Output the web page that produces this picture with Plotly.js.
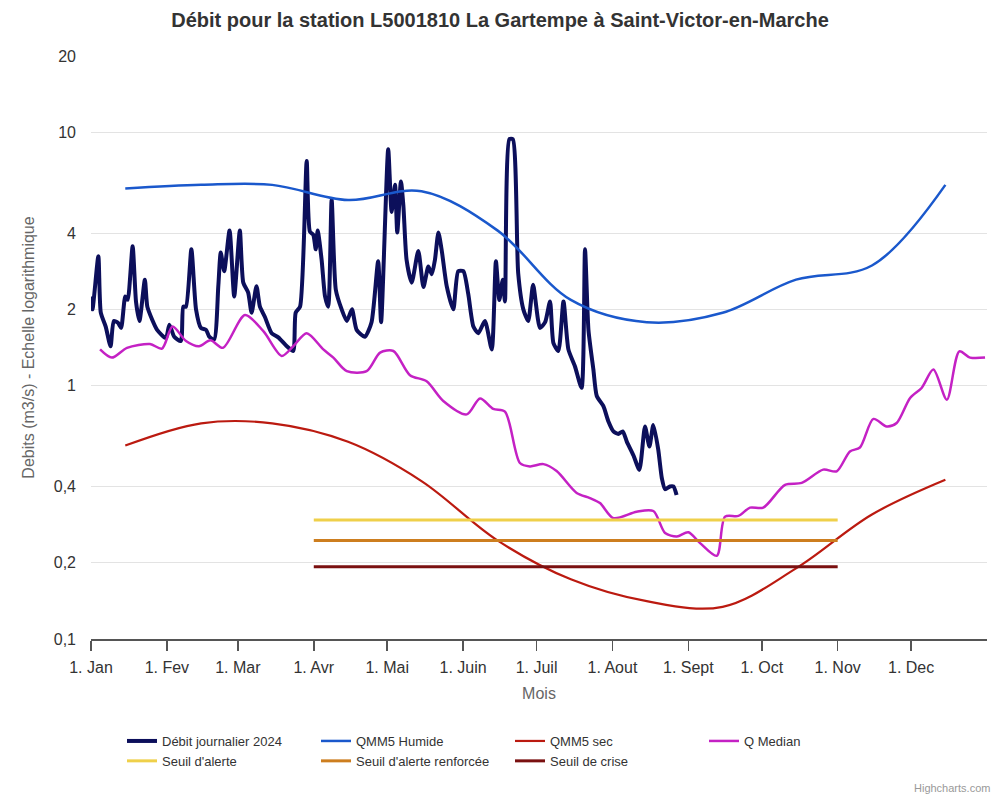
<!DOCTYPE html>
<html>
<head>
<meta charset="utf-8">
<script src="https://cdn.plot.ly/plotly-3.0.1.min.js"></script>
<style>html,body{margin:0;padding:0;background:#fff;}#chart{width:1000px;height:800px;}</style>
</head>
<body>
<div id="chart"></div>
<script>
// ---- Data (days counted from 1 Jan 2024) ----
const monthTickDays = [0, 31, 60, 91, 121, 152, 182, 213, 244, 274, 305, 335];
const monthTickLabels = ["1. Jan","1. Fev","1. Mar","1. Avr","1. Mai","1. Juin","1. Juil","1. Aout","1. Sept","1. Oct","1. Nov","1. Dec"];

const dailyDays = [0,0.6,3,4,6,8,9.3,11,12.3,14,15,17,18.4,19.8,22,23,25,27,30.6,32,34,36.7,37.7,38.8,41,42.9,44.9,47,48.3,50.3,52,53,54.4,56.6,58.5,60.8,62.2,64.2,65.6,67.6,69,71,73.8,76.5,80,82.6,83.6,85.4,88.1,89.4,90.8,91.8,92.6,94.2,95.6,96.9,98.3,100,102.4,104.5,106.6,108.5,111.9,114.6,117.3,118.5,121.4,122.8,124.2,125.1,126.6,127.6,128.9,131,133.7,135.8,137.8,139.2,140.5,141.9,143.3,145.3,148,150,152.1,154.1,156.2,158.2,160.9,163.7,165.4,166.8,168.2,169.1,170.9,172.3,174.5,176.6,178.6,180.6,183.4,185.5,187.5,188.9,190.9,193,195,197.7,200.4,201.8,203.2,205.2,206.6,209.3,211.4,213.4,215.4,217.2,218.9,221.6,224,226.3,228.1,229.7,231.7,233.2,234.5,236.5,237.9,239.2];
const dailyFlow = [2.25,2.0,3.24,1.94,1.71,1.43,1.80,1.77,1.69,2.25,2.18,3.55,2.14,1.80,2.62,2.05,1.82,1.66,1.54,1.74,1.56,1.50,2.05,2.05,3.45,2.0,1.69,1.66,1.56,1.52,2.47,3.35,2.83,4.1,2.25,4.1,2.55,2.33,1.94,2.47,2.05,1.87,1.61,1.55,1.43,1.37,1.94,2.05,7.70,4.06,3.94,3.45,4.1,3.14,2.25,2.05,5.43,2.39,2.0,1.80,2.0,1.66,1.56,1.78,3.1,1.78,8.57,4.85,6.2,4.02,6.4,5.13,3.14,2.55,3.4,2.45,2.95,2.75,3.14,4.02,3.4,2.47,2.0,2.83,2.83,2.3,1.71,1.61,1.80,1.39,3.1,2.18,2.62,2.15,9.4,9.4,2.78,2.0,1.80,2.5,1.69,1.78,2.15,1.47,1.37,2.15,1.39,1.19,0.98,3.45,1.66,1.16,0.91,0.83,0.72,0.66,0.645,0.66,0.60,0.53,0.465,0.69,0.575,0.70,0.56,0.43,0.39,0.40,0.40,0.37];

const monthMidDays = [14, 45, 74, 105, 135, 166, 196, 227, 258, 288, 319, 349];
const qmm5Humide = [6.0, 6.2, 6.2, 5.4, 5.85, 4.1, 2.18, 1.78, 1.94, 2.62, 2.98, 6.2];
const qmm5Sec = [0.58, 0.71, 0.71, 0.60, 0.42, 0.245, 0.172, 0.141, 0.134, 0.19, 0.31, 0.425];

const medianDays = [3.7,8.5,14.7,24.1,29,33.3,38.8,44.1,48.8,53.9,62.9,70.4,77.9,82.6,88.1,94.9,99,104.5,112.6,118.1,123.5,130.3,137.1,143.9,153.5,158.9,164.3,169.1,175.2,179.3,184.8,190.2,198.4,203.8,207.9,213.4,222.9,229.7,234.5,239.3,244,248.8,255.6,259,264.4,269.2,274.6,283.5,290.3,299.1,304.6,310,314.1,319.6,325,329.1,334.6,339.3,344.1,349.6,354.7,359.1,365.2];
const medianFlow = [1.39,1.29,1.41,1.46,1.40,1.71,1.50,1.43,1.51,1.41,1.90,1.64,1.31,1.43,1.61,1.39,1.29,1.14,1.14,1.35,1.37,1.10,1.04,0.87,0.77,0.89,0.81,0.79,0.495,0.48,0.49,0.46,0.377,0.36,0.344,0.30,0.318,0.32,0.262,0.254,0.264,0.239,0.213,0.304,0.306,0.33,0.33,0.406,0.413,0.466,0.459,0.55,0.57,0.739,0.69,0.712,0.894,0.979,1.157,0.88,1.366,1.29,1.29];

const seuilDays = [91, 305];
const seuilAlerte = 0.295;
const seuilRenforcee = 0.245;
const seuilCrise = 0.193;

const yTickVals = [0.1, 0.2, 0.4, 1, 2, 4, 10, 20];
const yTickText = ["0,1", "0,2", "0,4", "1", "2", "4", "10", "20"];

// ---- helpers ----
const base = Date.UTC(2024, 0, 1);
const toDate = d => new Date(base + d * 86400000).toISOString().slice(0, 19);
const dates = arr => arr.map(toDate);

const FONT = "Liberation Sans, Arial, Helvetica, sans-serif";

const traces = [
  {name: "Débit journalier 2024", x: dates(dailyDays), y: dailyFlow, mode: "lines",
   line: {color: "#0c0f5b", width: 4, shape: "spline", smoothing: 0.6}},
  {name: "QMM5 Humide", x: dates(monthMidDays), y: qmm5Humide, mode: "lines",
   line: {color: "#1a58cc", width: 2.5, shape: "spline"}},
  {name: "QMM5 sec", x: dates(monthMidDays), y: qmm5Sec, mode: "lines",
   line: {color: "#bb1a10", width: 2.2, shape: "spline"}},
  {name: "Q Median", x: dates(medianDays), y: medianFlow, mode: "lines",
   line: {color: "#c421c4", width: 2.5, shape: "spline", smoothing: 0.8}},
  {name: "Seuil d'alerte", x: dates(seuilDays), y: seuilDays.map(() => seuilAlerte), mode: "lines",
   line: {color: "#efd04a", width: 3}},
  {name: "Seuil d'alerte renforcée", x: dates(seuilDays), y: seuilDays.map(() => seuilRenforcee), mode: "lines",
   line: {color: "#cd7e1f", width: 3}},
  {name: "Seuil de crise", x: dates(seuilDays), y: seuilDays.map(() => seuilCrise), mode: "lines",
   line: {color: "#7a1010", width: 3}}
];

const layout = {
  width: 1000, height: 800,
  margin: {l: 91, r: 13, t: 56, b: 161},
  paper_bgcolor: "#fff", plot_bgcolor: "#fff",
  font: {family: FONT, color: "#333", size: 13},
  title: {text: "<b>Débit pour la station L5001810 La Gartempe à Saint-Victor-en-Marche</b>",
          x: 0.5, xref: "container", y: 0.975, yref: "container", yanchor: "middle",
          font: {family: FONT, size: 20, color: "#333"}},
  xaxis: {
    type: "date",
    range: [toDate(0), toDate(366)],
    tickvals: dates(monthTickDays), ticktext: monthTickLabels,
    tickfont: {size: 16, color: "#333"},
    showgrid: false, zeroline: false,
    showline: true, linecolor: "#555", linewidth: 2,
    ticks: "outside", ticklen: 10, tickcolor: "#555", tickwidth: 1.5,
    ticklabelstandoff: 3,
    title: {text: "Mois", font: {size: 16, color: "#666"}, standoff: 13},
    automargin: false, fixedrange: true
  },
  yaxis: {
    type: "log",
    range: [Math.log10(0.1), Math.log10(20)],
    tickvals: yTickVals, ticktext: yTickText,
    tickfont: {size: 16, color: "#333"},
    showgrid: true, gridcolor: "#e3e3e3", gridwidth: 1,
    zeroline: false, showline: false, ticks: "", ticklabelstandoff: 14,
    title: {text: "Debits (m3/s) - Echelle logarithmique", font: {size: 16, color: "#666"}, standoff: 15},
    automargin: false, fixedrange: true
  },
  showlegend: true,
  legend: {orientation: "h", xref: "container", yref: "container",
           x: 0.122, xanchor: "left", y: 0.0925, yanchor: "top",
           entrywidth: 149, entrywidthmode: "pixels", traceorder: "normal",
           font: {size: 13, color: "#333"}, tracegroupgap: 0, itemwidth: 30},
  annotations: [{text: "Highcharts.com", xref: "paper", yref: "paper",
                 x: (992 - 91) / 896, y: (639 - 788) / 583, xanchor: "right", yanchor: "middle",
                 showarrow: false, font: {size: 11, color: "#999"}}]
};

Plotly.newPlot("chart", traces, layout, {displayModeBar: false, staticPlot: true});
</script>
</body>
</html>
